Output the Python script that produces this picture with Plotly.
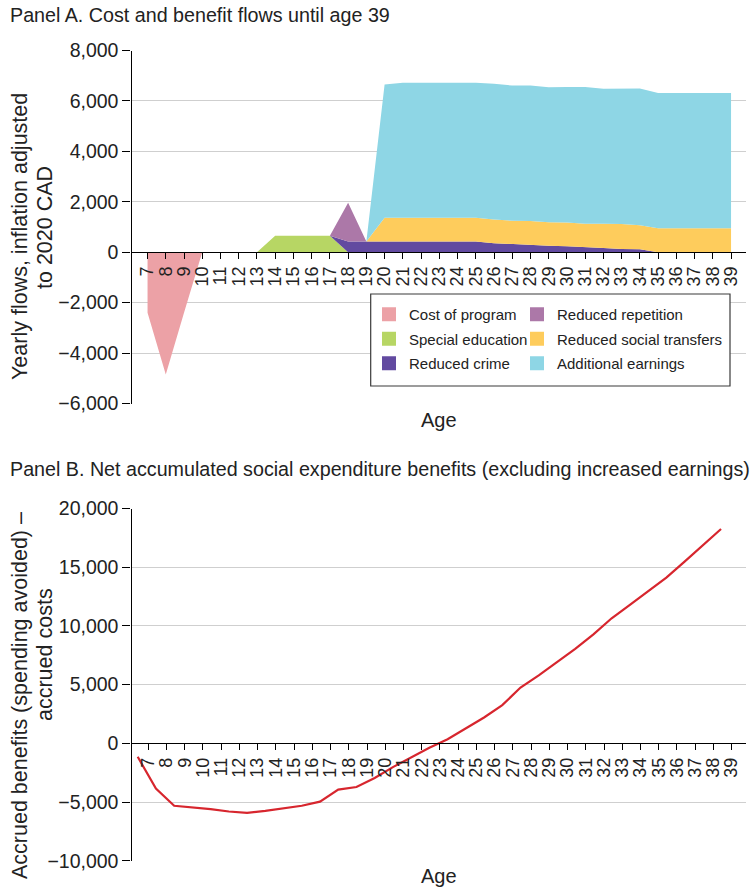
import plotly.graph_objects as go

W, H = 753, 889

ages = list(range(7, 40))
age_labels = [str(a) for a in ages]

# Panel A yearly flows (CAD 2020)
cost_of_program = [-2400, -4850, -2400, 0] + [0] * 29
special_education = [0, 0, 0, 0, 0, 0, 0, 650, 650, 650, 650] + [0] * 22
reduced_crime = ([0] * 11 + [420, 420, 420, 420, 420, 420, 420, 420,
                  360, 320, 300, 260, 240, 190, 170, 130, 120, 0, 0, 0, 0, 0])
reduced_repetition = [0] * 11 + [1540] + [0] * 21
reduced_transfers = ([0] * 13 + [950, 950, 950, 950, 950, 950,
                      940, 930, 940, 925, 940, 940, 960, 990, 950,
                      950, 950, 950, 950, 950])
additional_earnings = ([0] * 13 + [5280, 5350, 5350, 5350, 5350, 5350,
                        5380, 5360, 5370, 5360, 5370, 5420, 5350, 5360, 5420,
                        5360, 5360, 5360, 5360, 5360])

# Panel B net accumulated benefits
net_accumulated = [-1150, -3860, -5320, -5440, -5610, -5810, -5920, -5750, -5520,
                   -5320, -4970, -3950, -3720, -2950, -2030, -1180, -380, 340,
                   1270, 2200, 3250, 4750, 5790, 6920, 8050, 9280, 10650, 11800,
                   12940, 14120, 15480, 16860, 18250]

series_names = ["Cost of program", "Special education", "Reduced crime",
                "Reduced repetition", "Reduced social transfers", "Additional earnings"]
colors = {"Cost of program": "#ECA1A6", "Special education": "#B7D664",
          "Reduced crime": "#624AA0", "Reduced repetition": "#AC78A8",
          "Reduced social transfers": "#FECC5C", "Additional earnings": "#8ED6E5"}

yA_range = [-6000, 8000]
yB_range = [-10000, 20000]
xA_range = [6.12, 39.82]
xB_range = [6.66, 40.37]
tick_shift_B = 0.58

FONT = "Liberation Sans, Arial, sans-serif"
TXT = "#222222"

def px(x):
    return x / W

def py(y):
    return 1 - y / H

xdom = [px(131.5), px(746)]
yA_dom = [py(403.5), py(50.5)]
yB_dom = [py(860.7), py(508.5)]

def zero_pos(dom, rng):
    return dom[0] + (0 - rng[0]) / (rng[1] - rng[0]) * (dom[1] - dom[0])

fig = go.Figure()

# Cost of program (negative)
fig.add_trace(go.Scatter(x=ages, y=cost_of_program, mode="lines", fill="tozeroy",
                         line=dict(width=0), fillcolor=colors["Cost of program"],
                         showlegend=False, hoverinfo="skip", xaxis="x", yaxis="y"))

stack = [("Special education", special_education), ("Reduced crime", reduced_crime),
         ("Reduced repetition", reduced_repetition),
         ("Reduced social transfers", reduced_transfers),
         ("Additional earnings", additional_earnings)]
for name, vals in stack:
    fig.add_trace(go.Scatter(x=ages, y=vals, mode="lines", stackgroup="pos",
                             line=dict(width=0), fillcolor=colors[name],
                             showlegend=False, hoverinfo="skip", xaxis="x", yaxis="y"))

# Legend entries
left_col = ["Cost of program", "Special education", "Reduced crime"]
right_col = ["Reduced repetition", "Reduced social transfers", "Additional earnings"]
for name in series_names:
    fig.add_trace(go.Scatter(x=[None], y=[None], mode="markers", name=name,
                             marker=dict(symbol="square", size=14, color=colors[name]),
                             legend="legend" if name in left_col else "legend2",
                             legendgroup=name, xaxis="x", yaxis="y"))

# Panel B line
fig.add_trace(go.Scatter(x=ages, y=net_accumulated, mode="lines",
                         line=dict(color="#D7262E", width=2.2),
                         showlegend=False, hoverinfo="skip", xaxis="x2", yaxis="y2"))

axis_common = dict(showline=True, linecolor="#000000", linewidth=1.3,
                   ticks="outside", ticklen=8, tickcolor="#000000", tickwidth=1,
                   automargin=False,
                   tickfont=dict(family=FONT, size=19.5, color=TXT))
xaxis_common = {**axis_common, "ticklen": 6,
                "tickfont": dict(family=FONT, size=18, color=TXT)}

legend_font = dict(family=FONT, size=15, color=TXT)

fig.update_layout(
    template="none",
    width=W, height=H, margin=dict(l=0, r=0, t=0, b=0, pad=0, autoexpand=False),
    paper_bgcolor="white", plot_bgcolor="white",
    font=dict(family=FONT, color=TXT),
    xaxis=dict(domain=xdom, range=xA_range, anchor="free",
               position=zero_pos(yA_dom, yA_range),
               tickvals=ages, ticktext=age_labels, tickangle=-90,
               showgrid=False, zeroline=False, **xaxis_common),
    yaxis=dict(domain=yA_dom, range=yA_range, anchor="x", dtick=2000,
               tickformat=",d", showgrid=True, gridcolor="#CFCFCF", gridwidth=1.2,
               zeroline=False, **axis_common),
    xaxis2=dict(domain=xdom, range=xB_range, anchor="free",
                position=zero_pos(yB_dom, yB_range),
                tickvals=[a + tick_shift_B for a in ages], ticktext=age_labels,
                tickangle=-90, showgrid=False, zeroline=False, **xaxis_common),
    yaxis2=dict(domain=yB_dom, range=yB_range, anchor="x2", dtick=5000,
                tickformat=",d", showgrid=True, gridcolor="#CFCFCF", gridwidth=1.2,
                zeroline=False, **axis_common),
    legend=dict(x=px(369), y=py(298), xanchor="left", yanchor="top",
                bgcolor="rgba(0,0,0,0)", borderwidth=0, tracegroupgap=2,
                font=legend_font, itemclick=False),
    legend2=dict(x=px(517), y=py(298), xanchor="left", yanchor="top",
                 bgcolor="rgba(0,0,0,0)", borderwidth=0, tracegroupgap=2,
                 font=legend_font, itemclick=False),
    shapes=[dict(type="rect", xref="paper", yref="paper",
                 x0=px(370.7), x1=px(730), y0=py(386), y1=py(294),
                 line=dict(color="#3A3A3A", width=1.2), fillcolor="white",
                 layer="above")],
    annotations=[
        dict(text="Panel A. Cost and benefit flows until age 39", x=px(8), y=py(15),
             xref="paper", yref="paper", xanchor="left", yanchor="middle",
             showarrow=False, font=dict(family=FONT, size=19.7, color=TXT)),
        dict(text="Panel B. Net accumulated social expenditure benefits (excluding increased earnings)",
             x=px(8), y=py(469), xref="paper", yref="paper", xanchor="left",
             yanchor="middle", showarrow=False,
             font=dict(family=FONT, size=19.7, color=TXT)),
        dict(text="Yearly flows, inflation adjusted", x=px(20), y=py(237),
             xref="paper", yref="paper", xanchor="center", yanchor="middle",
             textangle=-90, showarrow=False, font=dict(family=FONT, size=21.5, color=TXT)),
        dict(text="to 2020 CAD", x=px(45), y=py(228),
             xref="paper", yref="paper", xanchor="center", yanchor="middle",
             textangle=-90, showarrow=False, font=dict(family=FONT, size=21.5, color=TXT)),
        dict(text="Accrued benefits (spending avoided) –", x=px(20), y=py(696),
             xref="paper", yref="paper", xanchor="center", yanchor="middle",
             textangle=-90, showarrow=False, font=dict(family=FONT, size=21.5, color=TXT)),
        dict(text="accrued costs", x=px(45), y=py(655),
             xref="paper", yref="paper", xanchor="center", yanchor="middle",
             textangle=-90, showarrow=False, font=dict(family=FONT, size=21.5, color=TXT)),
        dict(text="Age", x=(xdom[0] + xdom[1]) / 2, y=py(420), xref="paper", yref="paper",
             xanchor="center", yanchor="middle", showarrow=False,
             font=dict(family=FONT, size=20, color=TXT)),
        dict(text="Age", x=(xdom[0] + xdom[1]) / 2, y=py(876), xref="paper", yref="paper",
             xanchor="center", yanchor="middle", showarrow=False,
             font=dict(family=FONT, size=20, color=TXT)),
    ],
)

fig.write_html("out.html", config={"displayModeBar": False},
               post_script="document.body.style.margin='0';document.body.style.padding='0';")
